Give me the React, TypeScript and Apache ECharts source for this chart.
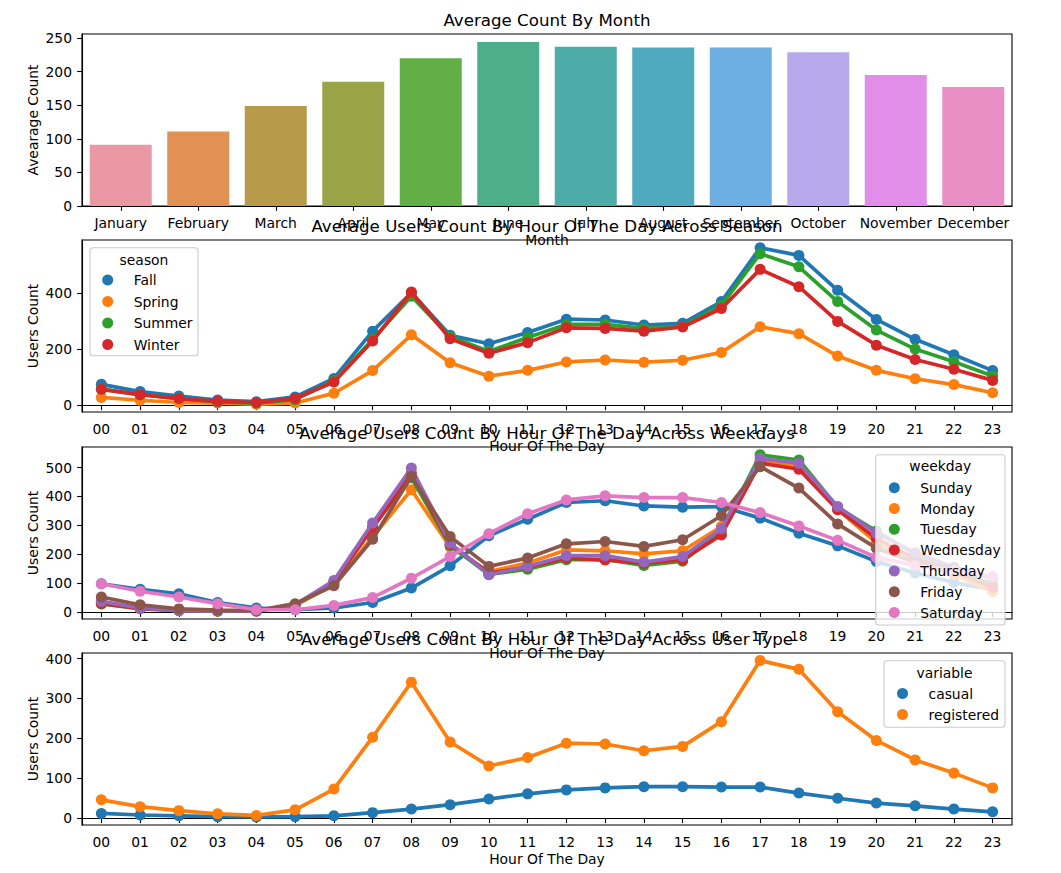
import React, { useEffect, useRef } from 'react';
import * as echarts from 'echarts';

const FONT = 'DejaVu Sans';
const TXT = 13.89;
const TITLE = 16.67;

const months = ['January', 'February', 'March', 'April', 'May', 'June', 'July', 'August', 'September', 'October', 'November', 'December'];
const monthAvg = [91, 111, 149, 185, 220, 244, 237, 236, 236, 229, 195, 177];
const monthColors = ['#ea98a4', '#e19153', '#b89b4a', '#9aa447', '#62af48', '#4cae8a', '#4daba8', '#50aabf', '#6daee3', '#b8a8ec', '#e08ee8', '#e88fc6'];

const hours = ['00', '01', '02', '03', '04', '05', '06', '07', '08', '09', '10', '11', '12', '13', '14', '15', '16', '17', '18', '19', '20', '21', '22', '23'];

const seasons = ['Fall', 'Spring', 'Summer', 'Winter'];
const fall = [75, 49, 33, 19, 13, 30, 96, 265, 402, 250, 220, 260, 308, 305, 287, 293, 371, 563, 536, 411, 307, 236, 181, 124];
const spring = [28, 18, 10, 8, 4, 8, 43, 124, 252, 152, 104, 125, 155, 162, 154, 161, 189, 281, 256, 176, 125, 95, 74, 45];
const summer = [58, 38, 25, 12, 8, 20, 88, 235, 390, 245, 193, 242, 289, 289, 275, 283, 357, 542, 495, 371, 269, 201, 156, 105];
const winter = [57, 38, 24, 14, 10, 24, 83, 230, 405, 238, 186, 224, 277, 275, 265, 280, 346, 486, 424, 300, 215, 164, 129, 89];

const weekdays = ['Sunday', 'Monday', 'Tuesday', 'Wednesday', 'Thursday', 'Friday', 'Saturday'];
const sunday = [98, 79, 63, 33, 14, 8, 14, 33, 83, 160, 264, 321, 379, 385, 367, 363, 365, 325, 273, 229, 175, 135, 102, 77];
const monday = [35, 15, 8, 5, 4, 22, 95, 260, 423, 225, 140, 170, 215, 212, 201, 212, 296, 521, 506, 355, 240, 170, 130, 70];
const tuesday = [28, 12, 5, 3, 4, 25, 100, 295, 465, 230, 130, 148, 181, 182, 161, 176, 279, 544, 526, 362, 280, 200, 150, 95];
const wednesday = [30, 12, 6, 4, 4, 25, 105, 290, 480, 235, 135, 155, 187, 180, 169, 181, 267, 515, 494, 354, 255, 185, 140, 85];
const thursday = [37, 14, 5, 4, 4, 25, 109, 308, 498, 238, 129, 158, 195, 195, 173, 192, 288, 532, 515, 365, 273, 205, 155, 120];
const friday = [52, 25, 11, 7, 5, 29, 91, 252, 469, 261, 158, 187, 236, 244, 227, 250, 333, 503, 429, 305, 221, 172, 152, 117];
const saturday = [98, 72, 52, 29, 8, 8, 23, 50, 117, 192, 271, 340, 388, 402, 396, 396, 379, 344, 298, 248, 189, 161, 144, 123];

const userTypes = ['casual', 'registered'];
const casual = [12, 8, 6, 4, 3, 4, 6, 14, 23, 34, 48, 61, 71, 76, 79, 79, 78, 78, 63, 50, 38, 31, 23, 16];
const registered = [46, 29, 19, 11, 7, 21, 73, 203, 341, 191, 131, 152, 188, 186, 169, 180, 242, 395, 373, 267, 195, 146, 113, 76];

const tab10 = ['#1f77b4', '#ff7f0e', '#2ca02c', '#d62728', '#9467bd', '#8c564b', '#e377c2'];

const yTicks1 = [0, 50, 100, 150, 200, 250];
const yTicks2 = [0, 200, 400];
const yTicks3 = [0, 100, 200, 300, 400, 500];
const yTicks4 = [0, 100, 200, 300, 400];

const titles = [
  'Average Count By Month',
  'Average Users Count By Hour Of The Day Across Season',
  'Average Users Count By Hour Of The Day Across Weekdays',
  'Average Users Count By Hour Of The Day Across User Type',
];

const gridTops = [34, 240, 447, 653];

function xAx(i: number, data: string[], name: string) {
  return {
    type: 'category',
    gridIndex: i,
    data,
    boundaryGap: true,
    name,
    nameLocation: 'middle',
    nameGap: 27,
    nameMoveOverlap: false,
    nameTextStyle: { fontSize: TXT, color: '#000', fontFamily: FONT },
    axisLine: { show: true, lineStyle: { color: '#000', width: 1.1 } },
    axisTick: { show: true, alignWithLabel: true, length: 4.86, lineStyle: { color: '#000', width: 1.1 } },
    axisLabel: { margin: 9.7, fontSize: TXT, color: '#000', fontFamily: FONT, interval: 0, hideOverlap: false },
    splitLine: { show: false },
  };
}

function yAx(i: number, min: number, max: number, ticks: number[], name: string) {
  return {
    type: 'value',
    gridIndex: i,
    min,
    max,
    name,
    nameLocation: 'middle',
    nameGap: 42,
    nameRotate: 90,
    nameMoveOverlap: false,
    nameTextStyle: { fontSize: TXT, color: '#000', fontFamily: FONT },
    axisLine: { show: true, lineStyle: { color: '#000', width: 1.1 } },
    axisTick: { show: true, length: 4.86, customValues: ticks, lineStyle: { color: '#000', width: 1.1 } },
    axisLabel: { margin: 10, fontSize: TXT, color: '#000', fontFamily: FONT, customValues: ticks },
    splitLine: { show: false },
  };
}

function lineSeries(name: string, data: number[], color: string, gi: number, z: number) {
  return {
    type: 'line',
    name,
    data,
    xAxisIndex: gi,
    yAxisIndex: gi,
    symbol: 'circle',
    symbolSize: 11,
    showSymbol: true,
    lineStyle: { color, width: 3.7 },
    itemStyle: { color },
    z,
    silent: true,
    emphasis: { disabled: true },
  };
}

function legendOpt(data: string[], left: number, top: number, gap: number) {
  return {
    data,
    left,
    top,
    orient: 'vertical',
    icon: 'circle',
    itemWidth: 42,
    itemHeight: 11,
    itemGap: gap,
    padding: 0,
    selectedMode: false,
    z: 60,
    textStyle: { fontSize: TXT, color: '#000', fontFamily: FONT, lineHeight: 16 },
  };
}

function legendBox(x: number, y: number, w: number, h: number, title: string, tx: number, ty: number) {
  return [
    {
      type: 'rect',
      z: 50,
      shape: { x, y, width: w, height: h, r: 3 },
      style: { fill: 'rgba(255,255,255,0.8)', stroke: '#cccccc', lineWidth: 1.1 },
    },
    {
      type: 'text',
      z: 55,
      x: tx,
      y: ty,
      style: { text: title, fontSize: TXT, fontFamily: FONT, fill: '#000', align: 'center', verticalAlign: 'middle', textAlign: 'center', textVerticalAlign: 'middle' },
    },
  ];
}

export default function App() {
  const ref = useRef<HTMLDivElement>(null);
  useEffect(() => {
    if (!ref.current) return;
    const chart = echarts.init(ref.current, null, { renderer: 'svg' });
    const seasonData = [fall, spring, summer, winter];
    const weekdayData = [sunday, monday, tuesday, wednesday, thursday, friday, saturday];
    const userData = [casual, registered];
    const series: any[] = [
      {
        type: 'bar',
        name: 'Month',
        xAxisIndex: 0,
        yAxisIndex: 0,
        barWidth: '80%',
        silent: true,
        data: monthAvg.map((v, i) => ({ value: v, itemStyle: { color: monthColors[i] } })),
      },
    ];
    seasons.forEach((s, i) => series.push(lineSeries(s, seasonData[i], tab10[i], 1, 10 + i)));
    weekdays.forEach((s, i) => series.push(lineSeries(s, weekdayData[i], tab10[i], 2, 10 + i)));
    userTypes.forEach((s, i) => series.push(lineSeries(s, userData[i], tab10[i], 3, 10 + i)));

    const option: any = {
      animation: false,
      backgroundColor: '#fff',
      title: titles.map((t, i) => ({
        text: t,
        left: 547,
        top: gridTops[i] - 22.5,
        textAlign: 'center',
        padding: 0,
        textStyle: { fontSize: TITLE, fontWeight: 'normal', color: '#000', fontFamily: FONT },
      })),
      grid: gridTops.map((top) => ({
        left: 82,
        right: 49,
        top,
        height: 172,
        show: true,
        borderColor: '#000',
        borderWidth: 1.1,
        backgroundColor: 'transparent',
        containLabel: false,
        outerBoundsMode: 'none',
      })),
      xAxis: [
        xAx(0, months, 'Month'),
        xAx(1, hours, 'Hour Of The Day'),
        xAx(2, hours, 'Hour Of The Day'),
        xAx(3, hours, 'Hour Of The Day'),
      ],
      yAxis: [
        yAx(0, 0, 256, yTicks1, 'Avearage Count'),
        yAx(1, -24, 591, yTicks2, 'Users Count'),
        yAx(2, -24, 571, yTicks3, 'Users Count'),
        yAx(3, -17, 414, yTicks4, 'Users Count'),
      ],
      legend: [
        legendOpt(seasons, 102.2, 272, 5.5),
        legendOpt(weekdays, 888.8, 479.7, 4.8),
        legendOpt(userTypes, 897, 685.5, 5),
      ],
      graphic: {
        elements: [
          ...legendBox(90, 247.7, 108, 108, 'season', 144, 259.5),
          ...legendBox(875.7, 454.7, 129.3, 170.3, 'weekday', 940.3, 465.5),
          ...legendBox(884, 660.7, 121, 66.6, 'variable', 944.5, 672.5),
        ],
      },
      series,
    };
    chart.setOption(option);
    return () => chart.dispose();
  }, []);
  return <div ref={ref} style={{ position: 'fixed', left: 0, top: 0, width: 1061, height: 873 }} />;
}
